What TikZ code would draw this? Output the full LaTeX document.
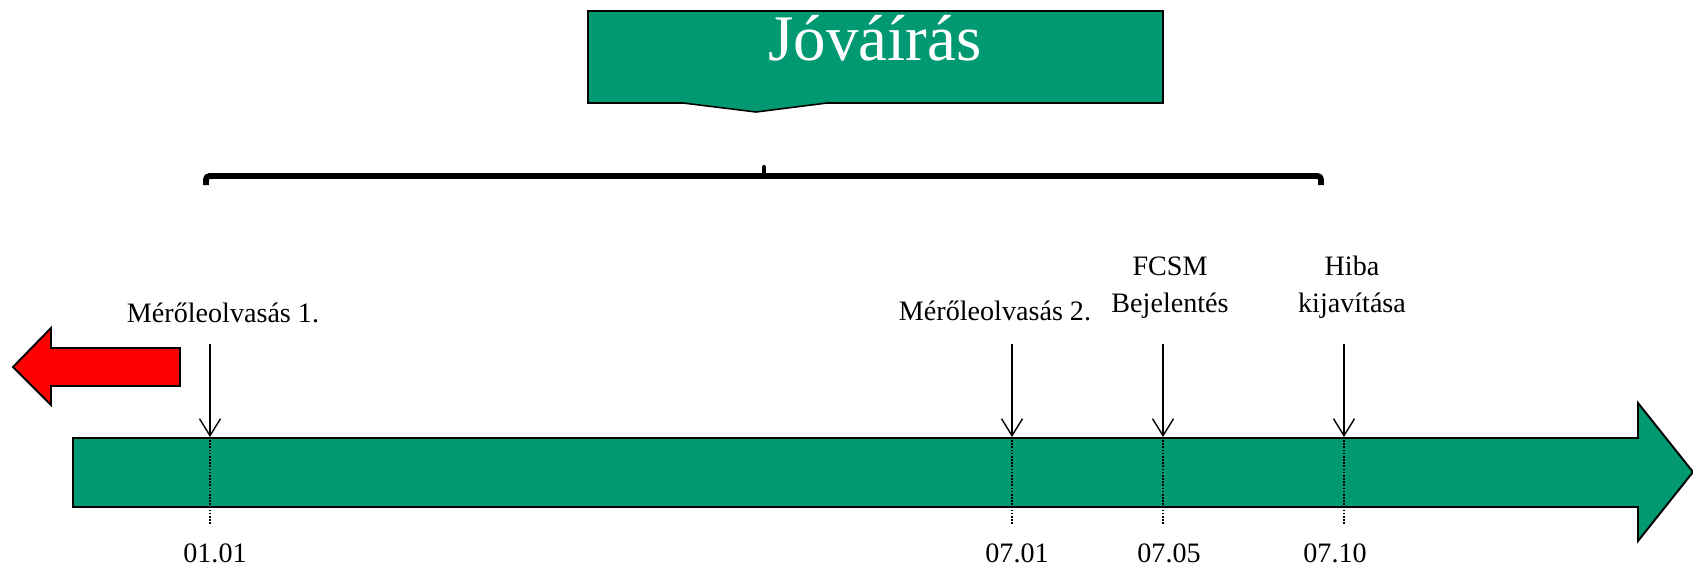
\documentclass[tikz,border=0pt]{standalone}
\usepackage{fontspec}
\setmainfont{Liberation Serif}
\usepackage{xcolor}
\usetikzlibrary{arrows.meta}
\definecolor{idozold}{RGB}{0,153,114}
\tikzset{every picture/.style={line width=0.75pt}}
\tikzset{
  esemeny/.style={anchor=base, align=center, font=\fontsize{16}{21}\selectfont},
  datum/.style={anchor=base, font=\fontsize{16}{21}\selectfont},
  jelzo/.style={-{Straight Barb[length=0.34cm,width=0.42cm]}, line width=0.8pt},
  vetulet/.style={dash pattern=on 0.9pt off 0.9pt, line width=1pt},
  korvonal/.style={draw=black, line width=1.1pt}
}

\begin{document}
\begin{tikzpicture}[x=0.02cm,y=-0.02cm]
  \useasboundingbox (0,0) rectangle (1693,568);

  % time line
  \draw [korvonal, fill=idozold] (73,438) -- (1638,438) -- (1638,403) -- (1693,472)
    -- (1638,541) -- (1638,507) -- (73,507) -- cycle;
  % back arrow
  \draw [korvonal, fill=red] (180,348) -- (51,348) -- (51,328) -- (13,367)
    -- (51,405) -- (51,386) -- (180,386) -- cycle;

  % title callout
  \draw [korvonal, line width=0.9pt, fill=idozold] (588,11) -- (1163,11) -- (1163,103)
    -- (827,103) -- (756,112) -- (683,103) -- (588,103) -- cycle;
  \node (cim) [anchor=base, text=white, font=\fontsize{37}{40}\selectfont] at (875,60) {Jóváírás};

  % brace
  \draw [line width=3.3pt, rounded corners=2pt] (206,185) |- (1321,176) -- (1321,185);
  \draw [line width=2.4pt, line cap=round] (764,176) -- (764,167);

  % events
  \node (m1) [esemeny] at (223,322) {Mérőleolvasás 1.};
  \node (m2) [esemeny] at (995,320) {Mérőleolvasás 2.};
  \node (fcsm) [esemeny] at (1170,312) {FCSM\\Bejelentés};
  \node (hiba) [esemeny] at (1352,312) {Hiba\\kijavítása};

  \foreach \x/\n in {210/1, 1012/2, 1163/3, 1344/4} {
    \coordinate (f\n) at (\x,344);
    \coordinate (a\n) at (\x,437);
    \coordinate (v\n) at (\x,525);
    \draw [jelzo] (f\n) -- (a\n);
    \draw [vetulet] (a\n) -- (v\n);
  }

  % dates
  \node (d1) [datum] at (215,562) {01.01};
  \node (d2) [datum] at (1017,562) {07.01};
  \node (d3) [datum] at (1169,562) {07.05};
  \node (d4) [datum] at (1335,562) {07.10};
\end{tikzpicture}
\end{document}
